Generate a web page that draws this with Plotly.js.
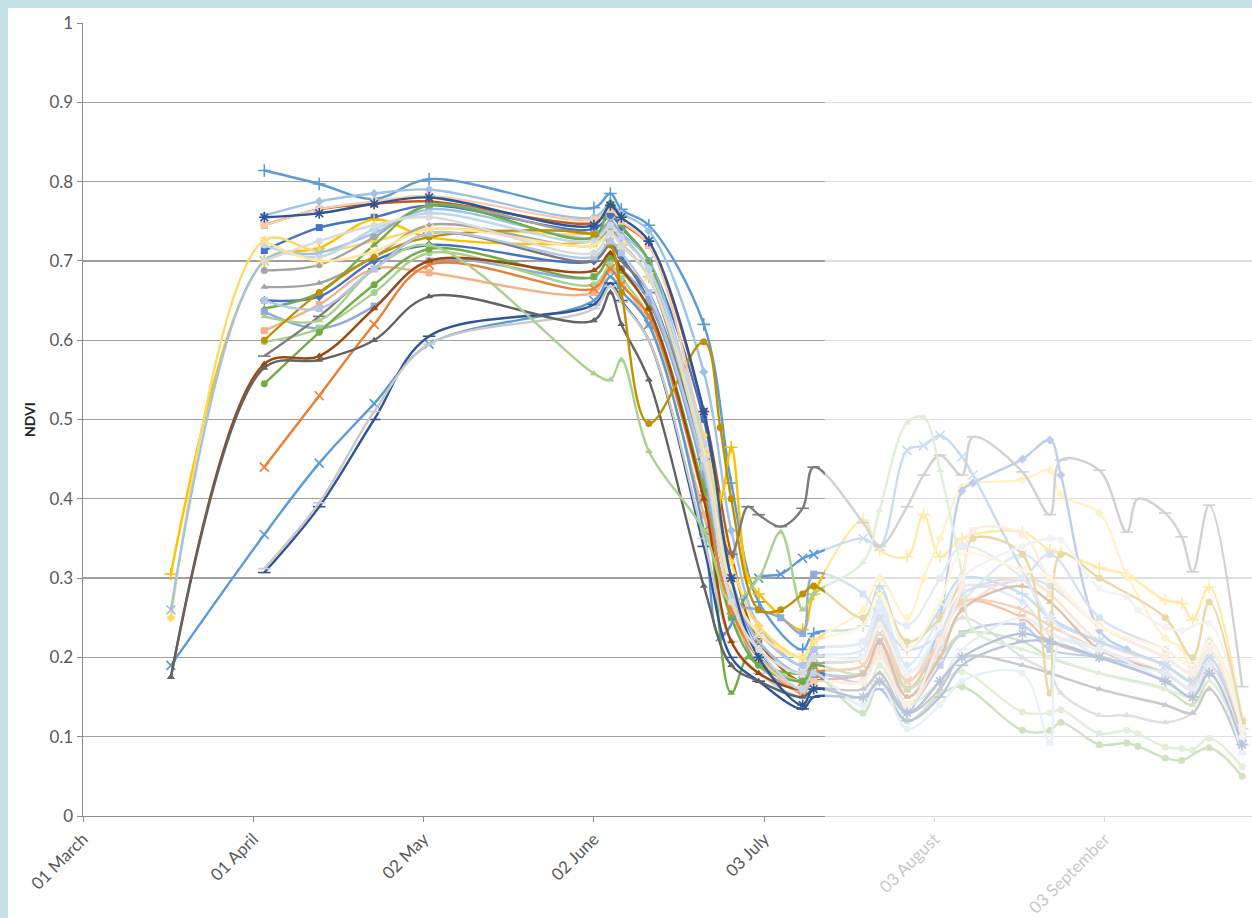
<!DOCTYPE html>
<html><head><meta charset="utf-8">
<script src="https://cdn.plot.ly/plotly-3.0.1.min.js"></script>
<style>
html,body{margin:0;padding:0;background:#c4e2e7;width:1252px;height:918px;overflow:hidden}
#chart{position:absolute;left:8px;top:8px;width:1244px;height:910px;background:#fff}
</style></head><body><div id="chart"></div>
<script>
const N = null;
// acquisition dates
const dates = ['2017-03-17','2017-04-03','2017-04-13','2017-04-23','2017-05-03','2017-06-02','2017-06-05','2017-06-07','2017-06-12','2017-06-22','2017-06-25','2017-06-27','2017-06-30','2017-07-02','2017-07-06','2017-07-10','2017-07-12','2017-07-21','2017-07-24','2017-07-29','2017-08-01','2017-08-04','2017-08-08','2017-08-10','2017-08-19','2017-08-24','2017-08-26','2017-09-02','2017-09-07','2017-09-09','2017-09-14','2017-09-17','2017-09-19','2017-09-22','2017-09-28'];
const tickDates = ['2017-03-01','2017-04-01','2017-05-02','2017-06-02','2017-07-03','2017-08-03','2017-09-03'];
const tickLabels = ['01 March','01 April','02 May','02 June','03 July','03 August','03 September'];

// NDVI series
const s01 = [N,.814,.797,.778,.803,.767,.785,.765,.745,.620,N,.42,N,.27,N,.21,.23,.24,.29,.21,N,.26,.30,N,.28,.25,N,.22,N,N,.19,N,.17,.20,.11];
const s02 = [N,.757,.775,.785,.790,.755,.772,.760,.738,.560,N,.36,N,.24,N,.19,.21,.22,.27,.19,N,.25,.29,N,.27,.23,N,.21,N,N,.18,N,.16,.19,.10];
const s03 = [N,.745,.765,.772,.775,.748,.762,.748,.720,.510,N,.33,N,.22,N,.17,.19,.20,.25,.16,N,.22,.27,N,.25,.22,N,.20,N,N,.17,N,.15,.18,.09];
const s04 = [N,.713,.742,.755,.770,.740,.757,.742,.700,.500,N,.30,N,.21,N,.155,.175,.18,.22,.14,N,.19,.23,N,.24,.21,N,.20,N,N,.18,N,.16,.19,.12];
const s05 = [.305,.700,.716,.752,.730,.725,.735,.720,.680,.450,.40,.465,.30,.28,N,.235,.28,.373,.335,.327,.38,.327,.35,N,.358,.335,.332,.313,.304,N,.272,.268,.247,.289,.121];
const s06 = [.250,.726,.712,.725,.740,.735,.745,.730,.690,.480,N,.32,N,.24,N,.20,.22,.26,.30,.25,.30,.35,.415,.42,.424,.436,.405,.382,.304,N,.224,.212,.175,.222,.124];
const s07 = [.260,.700,.710,.735,.765,.730,.750,.735,.700,.460,N,.30,N,.22,N,.18,.20,.21,.26,.18,N,.23,.27,N,.33,.30,N,.24,N,N,.20,N,.18,.21,.10];
const s08 = [N,.688,.695,.730,.770,.735,.748,.732,.690,.440,N,.28,N,.20,N,.17,.19,.20,.25,.17,N,.23,.28,N,.30,.29,N,.24,N,N,.20,N,.18,.21,.11];
const s09 = [N,.667,.672,.705,.745,.720,.740,.722,.680,.430,N,.27,N,.19,N,.16,.18,.19,.24,.15,N,.21,.25,N,.20,.18,.155,.127,.127,N,.118,N,.13,.16,.08];
const s10 = [N,.650,.655,.700,.720,.700,.722,.705,.650,.450,N,.28,N,.20,N,.16,.18,.17,.21,.13,N,.25,.41,.42,.45,.474,.43,.234,.21,N,.19,N,.17,.19,.10];
const s11 = [N,.640,.660,.720,.770,.730,.775,.745,.700,.420,N,.155,.20,.19,N,.18,.19,.18,.22,.16,N,.20,.23,N,.22,.20,N,.18,N,N,.16,N,.14,.17,.09];
const s12 = [N,.636,.615,.643,.700,.680,.705,.690,.650,.430,N,.27,N,.26,.25,.23,.305,.28,.25,.21,N,.23,.28,N,.30,.33,N,.25,N,N,.21,N,.19,.22,.11];
const s13 = [N,.612,.645,.690,.685,.660,.688,.672,.620,.380,N,.25,N,.20,N,.155,.17,.17,.21,.14,N,.20,.26,N,.30,.28,N,.22,N,N,.19,N,.17,.20,.10];
const s14 = [N,.598,.615,.660,.710,.670,.695,.678,.630,.400,N,.26,N,.20,N,.17,.18,.14,.19,.14,N,.168,.182,N,.131,.13,.134,.104,.108,.104,.087,.085,.083,.098,.062];
const s15 = [N,.545,.610,.670,.715,.680,.705,.688,.640,.410,N,.25,N,.19,N,.17,.18,.13,.17,.12,N,.153,.163,N,.108,.108,.118,.09,.092,.088,.073,.07,N,.086,.05];
const s16 = [N,.440,.530,.620,.695,.665,.690,.670,.630,.400,N,.26,N,.20,N,.16,.18,.19,.23,.17,N,.22,.27,N,.26,.24,N,.21,N,N,.18,N,.16,.19,.10];
const s17 = [.190,.355,.445,.520,.595,.650,.680,.662,.620,.360,.226,N,N,.30,.305,.325,.33,.35,.34,.461,.467,.48,.453,.43,.31,.25,N,.22,N,N,.19,N,.17,.20,.10];
const s18 = [N,.307,.390,.500,.605,.645,.672,.650,.600,.340,N,.20,N,.17,N,.135,.15,.15,.16,.12,N,.15,.19,N,.22,.22,N,.20,N,N,.17,N,.15,.18,.09];
const s19 = [N,.312,.395,.510,.595,.640,.668,.648,.600,.350,N,.22,N,.18,N,.15,.16,.16,.18,.13,N,.17,.21,N,.25,.23,N,.21,N,N,.18,N,.16,.19,.09];
const s20 = [.175,.570,.580,.640,.700,.688,.710,.690,.640,.400,N,.22,N,.18,N,.16,.17,.18,.22,.15,N,.20,.26,N,.29,.27,N,.21,N,N,.18,N,.16,.19,.10];
const s21 = [.175,.565,.575,.600,.655,.625,.660,.620,.550,.290,N,.19,N,.17,N,.15,.16,.16,.18,.13,N,.16,.20,N,.19,.18,N,.16,N,N,.14,N,.13,.16,.08];
const s22 = [N,.580,.630,.690,.735,.700,.720,.700,.660,.450,N,.33,.39,.38,.365,.388,.44,.37,.34,.39,.43,.455,.43,.478,.434,.38,.449,.436,.358,.40,.382,.352,.308,.392,.163];
const s23 = [N,.630,.625,.690,.720,.558,.550,.575,.460,.360,N,.27,N,.30,.358,.26,.28,.32,.386,.496,.503,.436,.306,.235,.21,.20,N,.18,N,N,.16,N,.15,.17,.09];
const s24 = [N,.600,.660,.705,.730,.733,.720,.660,.495,.598,.490,.40,N,.26,.26,.28,.29,.25,.28,.22,N,.25,.30,.35,.33,.155,.33,.30,N,N,.25,N,.20,.27,.12];
const s25 = [N,.745,.765,.775,.782,.752,.765,.750,.720,.470,N,.28,N,.20,N,.16,.17,.17,.20,.14,N,.22,.29,.36,.355,.30,N,.24,N,N,.20,N,.18,.21,.11];
const s26 = [N,.720,.705,.740,.760,.725,.745,.730,.690,.470,N,.29,N,.21,N,.16,.18,.14,.17,.11,N,.14,.17,N,.18,.092,.22,.21,N,N,.17,N,.15,.18,.08];
const s27 = [N,.650,.640,.690,.735,.705,.725,.710,.660,.440,N,.28,N,.23,N,.19,.21,.22,.26,.24,N,.30,.34,N,.30,.25,N,.20,N,N,.18,N,.16,.19,.09];
const s28 = [N,.725,.700,.712,.740,.720,.735,.720,.680,.460,N,.29,N,.23,N,.20,.22,.24,.28,.21,N,.27,.33,N,.31,.30,N,.24,N,N,.21,N,.19,.22,.11];
const s29 = [N,.755,.760,.772,.780,.745,.770,.755,.725,.510,N,.30,N,.20,N,.14,.16,.15,.17,.13,N,.17,.20,N,.23,.22,N,.20,N,N,.17,N,.15,.18,.09];
const s30 = [N,.700,.725,.745,.755,.710,.735,.720,.680,.450,N,.27,N,.21,N,.18,.20,.20,.24,.18,N,.24,.30,N,.34,.35,.348,.287,.276,.26,.238,.234,N,.243,.10];

const seriesValues = [s01,s02,s03,s04,s05,s06,s07,s08,s09,s10,s11,s12,s13,s14,s15,s16,s17,s18,s19,s20,s21,s22,s23,s24,s25,s26,s27,s28,s29,s30];

// styles
const colors = ['#5B9BD5','#9DC3E6','#C55A11','#4472C4','#FFC000','#FFD966','#9DC3E6','#A5A5A5','#A5A5A5','#4472C4','#70AD47','#8FAADC','#F4B183','#A9D18E','#70AD47','#ED7D31','#5B9BD5','#2F5597','#C9C9C9','#9E480E','#636363','#7B7B7B','#A9D18E','#BF9000','#F8CBAD','#BDD7EE','#B4C7E7','#FFE699','#2F5597','#DBDBDB'];
const symbols = ['cross-thin','diamond','square','square','cross-thin','diamond','x-thin','circle','triangle-up','diamond','triangle-up','square','square','circle','circle','x-thin','x-thin','line-ew','line-ew','triangle-up','triangle-up','line-ew','triangle-up','circle','square','circle','square','x-thin','asterisk','circle'];

const thin = s => /thin|asterisk|line-/.test(s);
const traces = seriesValues.map((vals, i) => ({
  type: 'scatter', mode: 'lines+markers', x: dates, y: vals, connectgaps: true,
  showlegend: false, hoverinfo: 'x+y',
  line: {color: colors[i], width: 2.4, shape: 'spline', smoothing: 1},
  marker: thin(symbols[i])
    ? {symbol: symbols[i], size: 9, color: colors[i], line: {color: colors[i], width: 1.6}}
    : {symbol: symbols[i], size: 7, color: colors[i], line: {width: 0}}
}));

const font = {family: 'Lato, "Open Sans", sans-serif', size: 17, color: '#595959'};
const layout = {
  width: 1244, height: 910,
  margin: {l: 75, r: 0, t: 15, b: 102},
  paper_bgcolor: '#ffffff', plot_bgcolor: '#ffffff',
  font: font,
  xaxis: {
    type: 'date', range: ['2017-03-01', '2017-09-29 19:00'],
    tickmode: 'array', tickvals: tickDates, ticktext: tickLabels, tickangle: -45,
    showgrid: false, zeroline: false, showline: true, linecolor: '#8c8c8c', linewidth: 1.4,
    ticks: 'outside', ticklen: 5, tickcolor: '#8c8c8c', tickfont: font
  },
  yaxis: {
    range: [0, 1], dtick: 0.1, tick0: 0,
    showgrid: true, gridcolor: '#a0a0a0', gridwidth: 1.3, zeroline: false,
    showline: true, linecolor: '#8c8c8c', linewidth: 1.4,
    ticks: 'outside', ticklen: 5, tickcolor: '#8c8c8c', tickfont: font,
    title: {text: '<b>NDVI</b>', font: {family: 'Lato, "Open Sans", sans-serif', size: 14, color: '#262626'}, standoff: 10}
  },
  shapes: [{
    type: 'rect', layer: 'above', xref: 'x', yref: 'paper',
    x0: '2017-07-14 01:00', x1: '2017-11-30', y0: -0.2, y1: 1.05,
    fillcolor: 'rgba(255,255,255,0.66)', line: {width: 0}
  }]
};
Plotly.newPlot('chart', traces, layout, {staticPlot: true});
</script></body></html>
